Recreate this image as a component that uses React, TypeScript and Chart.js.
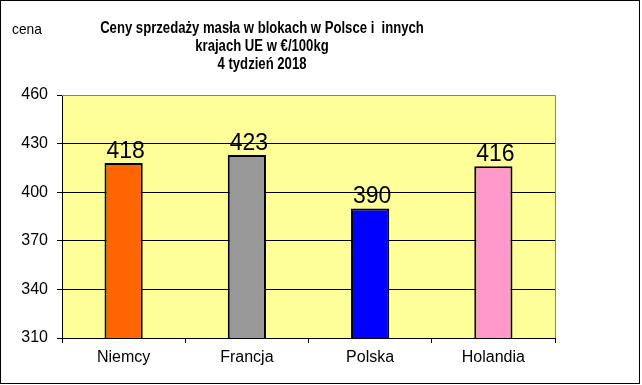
import React, { useEffect, useRef } from "react";
import { Chart, registerables } from "chart.js";

Chart.register(...registerables);

const categories = ["Niemcy", "Francja", "Polska", "Holandia"];
const prices = [418, 423, 390, 416];
const barColors = ["#FF6600", "#999999", "#0000FF", "#FF99CC"];
const titleLines = [
  "Ceny sprzedaży masła w blokach w Polsce i  innych",
  "krajach UE w €/100kg",
  "4 tydzień 2018",
];
const yAxisLabel = "cena";
const yMin = 310;
const yMax = 460;
const yStep = 30;

const FONT = "'Liberation Sans', Arial, sans-serif";

const decorPlugin = {
  id: "decor",
  beforeDraw(chart: any) {
    const { ctx, chartArea: a, width, height } = chart;
    ctx.save();
    ctx.fillStyle = "#FFFFFF";
    ctx.fillRect(0, 0, width, height);
    ctx.fillStyle = "#FFFF99";
    ctx.fillRect(a.left, a.top, a.right - a.left, a.bottom - a.top);
    ctx.restore();
  },
  afterDatasetsDraw(chart: any) {
    const { ctx } = chart;
    const meta = chart.getDatasetMeta(0);
    ctx.save();
    ctx.fillStyle = "#000000";
    ctx.font = `23px ${FONT}`;
    ctx.textAlign = "center";
    ctx.textBaseline = "alphabetic";
    meta.data.forEach((bar: any, i: number) => {
      ctx.fillText(String(prices[i]), bar.x + 2, bar.y - 5);
    });
    ctx.restore();
  },
  afterDraw(chart: any) {
    const { ctx, chartArea: a } = chart;
    ctx.save();
    ctx.strokeStyle = "#808080";
    ctx.lineWidth = 1;
    ctx.beginPath();
    ctx.moveTo(a.left, Math.round(a.top) + 0.5);
    ctx.lineTo(Math.round(a.right) + 0.5, Math.round(a.top) + 0.5);
    ctx.lineTo(Math.round(a.right) + 0.5, a.bottom);
    ctx.stroke();
    ctx.strokeStyle = "#000000";
    ctx.strokeRect(0.5, 0.5, 639, 383);
    // title
    ctx.fillStyle = "#000000";
    ctx.textAlign = "center";
    ctx.textBaseline = "alphabetic";
    ctx.font = `bold 16px ${FONT}`;
    titleLines.forEach((line, i) => {
      ctx.save();
      ctx.translate(262, 33 + i * 18);
      ctx.scale(0.82, 1);
      ctx.fillText(line, 0, 0);
      ctx.restore();
    });
    ctx.textAlign = "left";
    ctx.font = `15px ${FONT}`;
    ctx.save();
    ctx.translate(12, 34);
    ctx.scale(0.92, 1);
    ctx.fillText(yAxisLabel, 0, 0);
    ctx.restore();
    ctx.restore();
  },
};

export default function App() {
  const ref = useRef<HTMLCanvasElement>(null);
  useEffect(() => {
    if (!ref.current) return;
    const chart = new Chart(ref.current, {
      type: "bar",
      data: {
        labels: categories,
        datasets: [
          {
            data: prices,
            backgroundColor: barColors,
            borderColor: "#000000",
            borderWidth: 2,
            borderSkipped: false,
            barPercentage: 0.62,
            categoryPercentage: 0.5,
          },
        ],
      },
      options: {
        animation: false,
        responsive: false,
        layout: { padding: { top: 95, right: 87, bottom: 0, left: 0 } },
        plugins: {
          legend: { display: false },
          title: { display: false },
          tooltip: { enabled: false },
        },
        scales: {
          x: {
            afterFit(scale: any) {
              scale.height = 47;
            },
            grid: {
              display: true,
              drawOnChartArea: false,
              drawTicks: true,
              tickLength: 5,
              tickColor: "#000000",
              offset: true,
            },
            border: { display: true, color: "#000000", width: 1 },
            ticks: {
              color: "#000000",
              font: { family: FONT, size: 16 },
              padding: 5,
            },
          },
          y: {
            min: yMin,
            max: yMax,
            afterFit(scale: any) {
              scale.width = 62;
            },
            grid: {
              color: (c: any) =>
                c.tick && c.tick.value === yMax ? "#808080" : "#000000",
              tickColor: "#000000",
              tickLength: 5,
              lineWidth: 1,
            },
            border: { display: true, color: "#000000", width: 1 },
            ticks: {
              stepSize: yStep,
              color: "#000000",
              font: { family: FONT, size: 16 },
              padding: 9,
            },
          },
        },
      },
      plugins: [decorPlugin],
    });
    return () => chart.destroy();
  }, []);
  return (
    <div style={{ position: "absolute", left: 0, top: 0, width: 642, height: 385 }}>
      <canvas ref={ref} width={642} height={385} style={{ display: "block" }} />
    </div>
  );
}
